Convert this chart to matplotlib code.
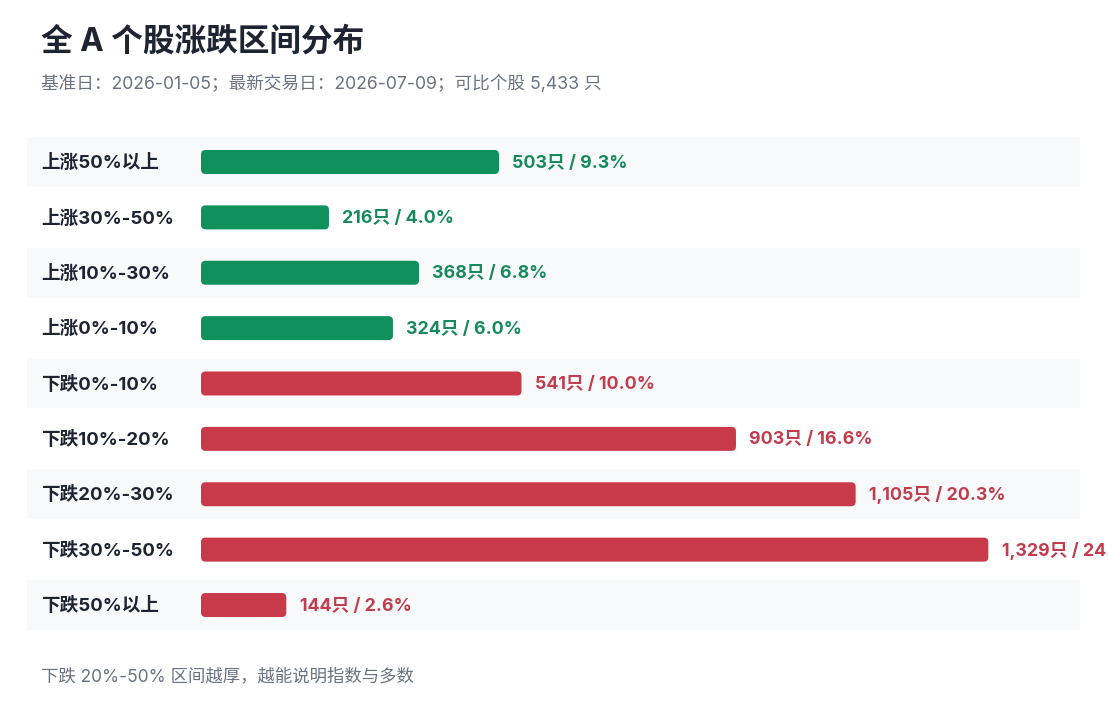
import matplotlib
matplotlib.use("Agg")
import matplotlib.pyplot as plt
from matplotlib.patches import FancyBboxPatch
import matplotlib.transforms as mtransforms

plt.rcParams['font.family'] = ['Inter', 'Noto Sans CJK SC', 'DejaVu Sans']

# ---------------- data ----------------
categories = ["上涨50%以上", "上涨30%-50%", "上涨10%-30%", "上涨0%-10%",
              "下跌0%-10%", "下跌10%-20%", "下跌20%-30%", "下跌30%-50%", "下跌50%以上"]
counts = [503, 216, 368, 324, 541, 903, 1105, 1329, 144]
percents = [9.3, 4.0, 6.8, 6.0, 10.0, 16.6, 20.3, 24.5, 2.6]
is_up = [True, True, True, True, False, False, False, False, False]

title = "全 A 个股涨跌区间分布"
subtitle = "基准日：2026-01-05；最新交易日：2026-07-09；可比个股 5,433 只"
footnote = "下跌 20%-50% 区间越厚，越能说明指数与多数"

# ---------------- style ----------------
W, H = 1108, 712
GREEN_BAR, RED_BAR = "#0f905d", "#c83a4a"
GREEN_TXT, RED_TXT = "#178a5c", "#c13c4c"
DARK = "#1e2432"
GRAY = "#6b7280"
BAND = "#f8f9fb"

fig = plt.figure(figsize=(W / 100, H / 100), dpi=100)
fig.patch.set_facecolor("white")

left_px, right_px = 27, 1080
row_step = 55.4
top_px = 162 - row_step / 2
bot_px = 605 + row_step / 2
ax = fig.add_axes([left_px / W, 1 - bot_px / H, (right_px - left_px) / W, (bot_px - top_px) / H])
ax.set_facecolor("white")

px_per_unit = (499 - 201) / 503.0
zero_px = 201
xmin = -(zero_px - left_px) / px_per_unit
xmax = (right_px - zero_px) / px_per_unit
ax.set_xlim(xmin, xmax)
n = len(categories)
ax.set_ylim(n - 0.5, -0.5)
for s in ax.spines.values():
    s.set_visible(False)
ax.set_xticks([])
ax.set_yticks([])

ys = list(range(n))
for i in ys:
    if i % 2 == 0:
        ax.axhspan(i - 0.45, i + 0.45, xmin=0, xmax=1, color=BAND, zorder=0, lw=0)

bar_h = 24 / row_step
bars = ax.barh(ys, counts, height=bar_h, left=0,
               color=[GREEN_BAR if u else RED_BAR for u in is_up], zorder=1)

units_per_px_x = 1 / px_per_unit
units_per_px_y = 1 / row_step
aspect = units_per_px_y / units_per_px_x
for b in bars:
    x0, y0, w, h = b.get_x(), b.get_y(), b.get_width(), b.get_height()
    r = 4.5 * units_per_px_x
    p = FancyBboxPatch((x0, y0), w, h,
                       boxstyle=f"round,pad=0,rounding_size={r}",
                       mutation_aspect=aspect,
                       facecolor=b.get_facecolor(), edgecolor="none", zorder=2)
    ax.add_patch(p)
    b.set_visible(False)

trans = mtransforms.blended_transform_factory(ax.transAxes, ax.transData)
for i, lab in enumerate(categories):
    ax.text((41 - left_px) / (right_px - left_px), i + 0.02, lab, transform=trans,
            ha="left", va="center", fontsize=13.4, fontweight="bold", color=DARK)

for i, (c, p, u) in enumerate(zip(counts, percents, is_up)):
    ax.annotate(f"{c:,}只 / {p:.1f}%", xy=(c, i + 0.02), xytext=(9.5, 0),
                textcoords="offset points", ha="left", va="center",
                fontsize=12.8, fontweight="bold",
                color=GREEN_TXT if u else RED_TXT, annotation_clip=False,
                clip_on=False)

fig.text(41 / W, 1 - 42 / H, title, ha="left", va="center",
         fontsize=22.8, fontweight="bold", color=DARK)
fig.text(41 / W, 1 - 84 / H, subtitle, ha="left", va="center",
         fontsize=12.7, color=GRAY)
fig.text(41 / W, 1 - 677 / H, footnote, ha="left", va="center",
         fontsize=12.5, color=GRAY)

fig.savefig("out.png", dpi=100, facecolor="white")
